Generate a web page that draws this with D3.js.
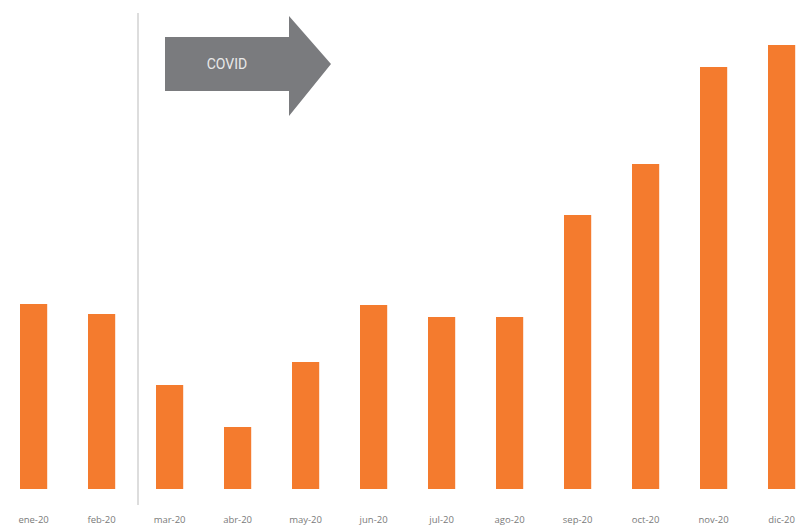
<!DOCTYPE html>
<meta charset="utf-8">
<script src="https://d3js.org/d3.v7.min.js"></script>
<style>
body {
  margin: 0;
  background: #fff;
}
svg {
  display: block;
}
.bar {
  fill: #f47b2e;
}
.x-label {
  font-family: "Open Sans", sans-serif;
  font-size: 9.5px;
  fill: #7a7a7a;
}
</style>
<body>
<div class="chart"></div>
<script>

// months and values (relative units)
var months = ["ene-20", "feb-20", "mar-20", "abr-20", "may-20", "jun-20",
              "jul-20", "ago-20", "sep-20", "oct-20", "nov-20", "dic-20"];
var values = [185, 175, 104, 62, 127, 184, 172, 172, 274, 325, 422, 444];

// covid starts at this month
var covidStart = "mar-20";
var covidLabel = "COVID";

var width = 804,
    height = 526,
    baseline = 489;

var svg = d3.select(".chart").append("svg")
    .attr("width", width)
    .attr("height", height);

// x: band scale, step 68px, first bar flush at 20px
var x = d3.scaleBand()
    .domain(months)
    .range([20, 20 + 68 * 11.4])
    .paddingInner(0.6)
    .paddingOuter(0);

var y = d3.scaleLinear()
    .domain([0, 444])
    .range([baseline, 45]);

// divider between pre-covid and covid months
var divX = x(covidStart) - 18;
svg.append("line")
    .attr("x1", divX)
    .attr("x2", divX)
    .attr("y1", 13)
    .attr("y2", 505)
    .attr("stroke", "#d2d2d2")
    .attr("stroke-width", 1.5);

// bars
svg.selectAll(".bar")
    .data(values)
    .enter().append("rect")
    .attr("class", "bar")
    .attr("x", function(d, i) { return x(months[i]); })
    .attr("y", function(d) { return y(d); })
    .attr("width", x.bandwidth())
    .attr("height", function(d) { return baseline - y(d); });

// month labels
svg.selectAll(".x-label")
    .data(months)
    .enter().append("text")
    .attr("class", "x-label")
    .attr("x", function(d) { return x(d) + x.bandwidth() / 2; })
    .attr("y", 523)
    .attr("text-anchor", "middle")
    .text(function(d) { return d; });

// covid arrow
var ax = x(covidStart) + 9,
    ay = 64;
var arrow = d3.path();
arrow.moveTo(ax, ay - 27);
arrow.lineTo(ax + 124, ay - 27);
arrow.lineTo(ax + 124, ay - 48);
arrow.lineTo(ax + 166, ay);
arrow.lineTo(ax + 124, ay + 52);
arrow.lineTo(ax + 124, ay + 27);
arrow.lineTo(ax, ay + 27);
arrow.closePath();

svg.append("path")
    .attr("d", arrow.toString())
    .attr("fill", "#7a7b7e");

svg.append("text")
    .attr("x", ax + 62)
    .attr("y", ay + 5)
    .attr("text-anchor", "middle")
    .attr("font-family", "Roboto, sans-serif")
    .attr("font-size", 14)
    .attr("fill", "#e9e9e9")
    .text(covidLabel);

</script>
</body>
</html>
